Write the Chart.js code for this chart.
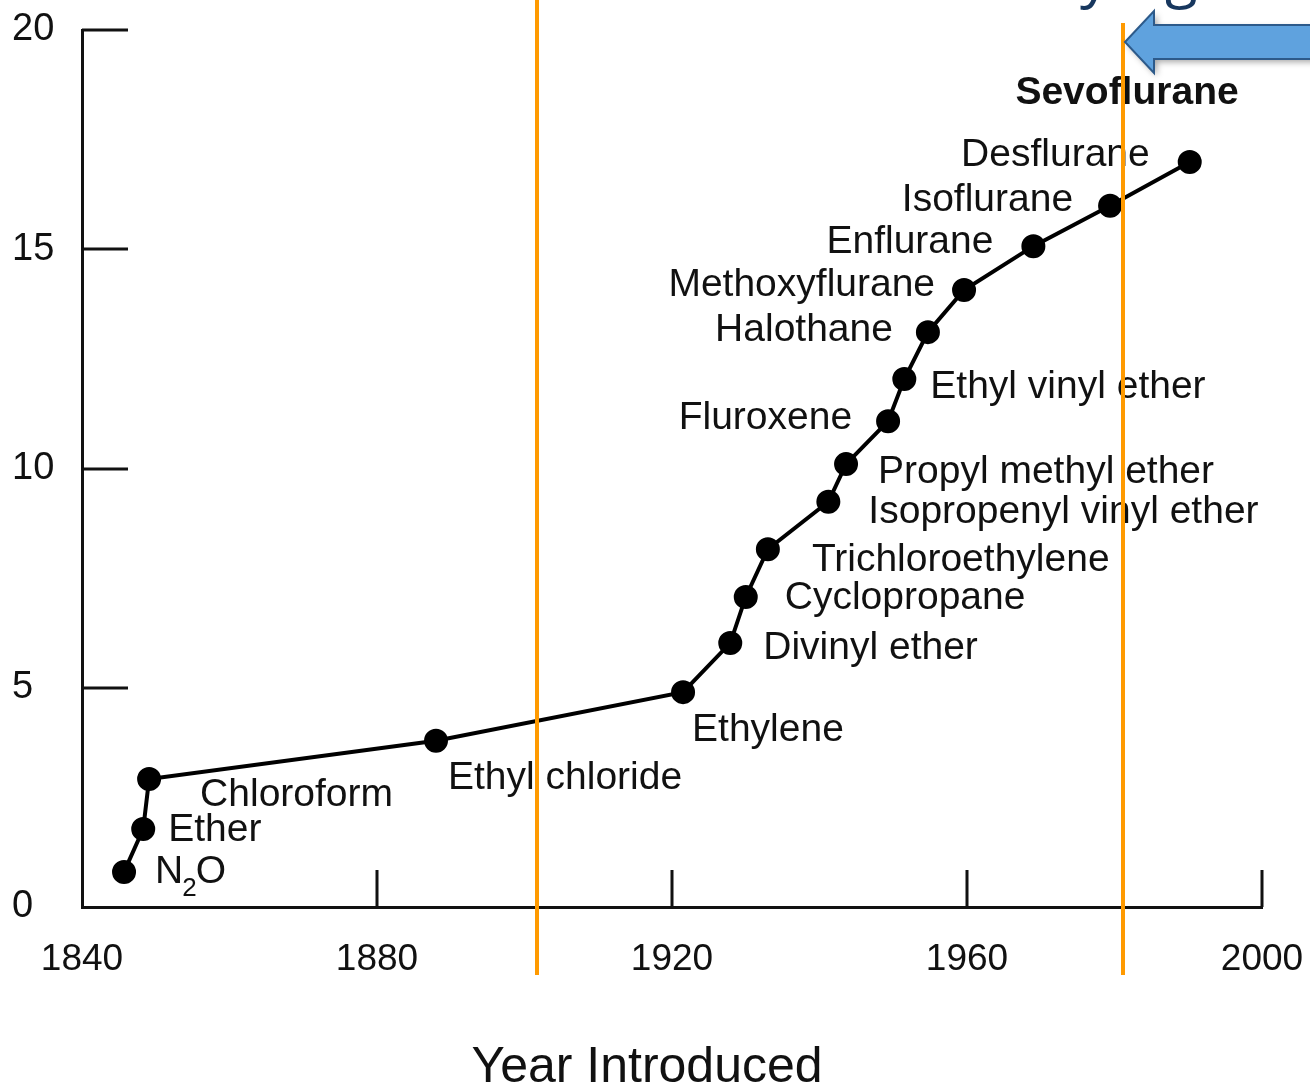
<!DOCTYPE html>
<html>
<head>
<meta charset="utf-8">
<script src="https://cdn.jsdelivr.net/npm/chart.js@4.4.1/dist/chart.umd.min.js"></script>
<style>
  body { margin: 0; background: #fff; }
  canvas { display: block; }
</style>
</head>
<body>
<canvas id="agentsChart" width="1310" height="1088"></canvas>
<script>
// anaesthetic agents, year introduced vs cumulative count
const agents = ['N2O', 'Ether', 'Chloroform', 'Ethyl chloride', 'Ethylene', 'Divinyl ether',
  'Cyclopropane', 'Trichloroethylene', 'Isopropenyl vinyl ether', 'Propyl methyl ether',
  'Fluroxene', 'Ethyl vinyl ether', 'Halothane', 'Methoxyflurane', 'Enflurane',
  'Isoflurane', 'Desflurane'];
const years = [1845.7, 1848.3, 1849.1, 1888.0, 1921.5, 1927.9, 1930.0, 1933.0, 1941.2,
  1943.6, 1949.3, 1951.5, 1954.7, 1959.6, 1969.0, 1979.4, 1990.2];
const counts = [0.80, 1.78, 2.92, 3.79, 4.90, 6.02, 7.07, 8.16, 9.24, 10.10, 11.08,
  12.04, 13.11, 14.07, 15.07, 15.99, 16.99];
const xTicks = [1840, 1880, 1920, 1960, 2000];
const yTicks = [0, 5, 10, 15, 20];
const markerYears = [1901.7, 1981.2];
const extraLabel = { text: 'Sevoflurane', year: 1981.7, count: 18.55 };

// where each name sits relative to its dot: [dx, dy, align]
const labelOffsets = [
  [31, 0, 'left'], [25, 1, 'left'], [51, 16, 'left'], [12, 37, 'left'], [9, 38, 'left'],
  [33, 5, 'left'], [39, 1, 'left'], [44, 11, 'left'], [40, 10, 'left'], [32, 8, 'left'],
  [-36, -3, 'right'], [26, 8, 'left'], [-35, -2, 'right'], [-29, -5, 'right'],
  [-40, -4, 'right'], [-37, -6, 'right'], [-40, -7, 'right']
];

const FONT = '"Liberation Sans", Arial, sans-serif';

const overlay = {
  id: 'overlay',
  afterDraw(chart) {
    const ctx = chart.ctx;
    const xs = chart.scales.x;
    const ys = chart.scales.y;
    const area = chart.chartArea;

    ctx.save();
    // inward tick marks
    ctx.strokeStyle = '#111';
    ctx.lineWidth = 3;
    ctx.beginPath();
    yTicks.filter(v => v > 0).forEach(v => {
      const py = Math.round(ys.getPixelForValue(v));
      ctx.moveTo(area.left, py);
      ctx.lineTo(area.left + 46, py);
    });
    xTicks.filter(v => v > 1840).forEach(v => {
      const px = Math.round(xs.getPixelForValue(v));
      ctx.moveTo(px, area.bottom);
      ctx.lineTo(px, area.bottom - 37);
    });
    ctx.stroke();

    // agent names
    ctx.fillStyle = '#111';
    ctx.textBaseline = 'middle';
    ctx.font = '39px ' + FONT;
    agents.forEach((name, i) => {
      const [dx, dy, align] = labelOffsets[i];
      const px = xs.getPixelForValue(years[i]) + dx;
      const py = ys.getPixelForValue(counts[i]) + dy;
      if (name === 'N2O') {
        ctx.textAlign = 'left';
        ctx.fillText('N', px, py);
        const wN = ctx.measureText('N').width;
        ctx.font = '26px ' + FONT;
        ctx.fillText('2', px + wN - 1, py + 17);
        const w2 = ctx.measureText('2').width;
        ctx.font = '39px ' + FONT;
        ctx.fillText('O', px + wN + w2 - 2, py);
      } else {
        ctx.textAlign = align;
        ctx.fillText(name, px, py);
      }
    });
    ctx.font = 'bold 39px ' + FONT;
    ctx.textAlign = 'center';
    ctx.fillText(extraLabel.text, xs.getPixelForValue(extraLabel.year), ys.getPixelForValue(extraLabel.count));

    // axis title
    ctx.font = '50px ' + FONT;
    ctx.fillText('Year Introduced', 647, 1068);

    // orange marker lines
    ctx.strokeStyle = '#ff9a00';
    ctx.lineWidth = 4;
    markerYears.forEach((yr, i) => {
      const px = Math.round(xs.getPixelForValue(yr));
      ctx.beginPath();
      ctx.moveTo(px, i === 0 ? 0 : 23);
      ctx.lineTo(px, 975);
      ctx.stroke();
    });

    // cut-off slide title at the top
    ctx.fillStyle = '#17375e';
    ctx.font = '60px "Open Sans", sans-serif';
    ctx.textAlign = 'left';
    ctx.textBaseline = 'alphabetic';
    ctx.fillText('y', 1080, -4);
    ctx.fillText('g', 1165, -4);

    // blue arrow
    ctx.shadowColor = 'rgba(0,0,0,0.35)';
    ctx.shadowBlur = 6;
    ctx.shadowOffsetX = 3;
    ctx.shadowOffsetY = 3;
    ctx.beginPath();
    ctx.moveTo(1125, 42);
    ctx.lineTo(1154, 11);
    ctx.lineTo(1154, 25);
    ctx.lineTo(1315, 25);
    ctx.lineTo(1315, 59);
    ctx.lineTo(1154, 59);
    ctx.lineTo(1154, 73);
    ctx.closePath();
    ctx.fillStyle = '#5fa2de';
    ctx.fill();
    ctx.shadowColor = 'transparent';
    ctx.strokeStyle = '#2d5a8a';
    ctx.lineWidth = 2;
    ctx.stroke();
    ctx.restore();
  }
};

new Chart(document.getElementById('agentsChart'), {
  type: 'line',
  data: {
    datasets: [{
      data: years.map((yr, i) => ({ x: yr, y: counts[i] })),
      borderColor: '#000',
      borderWidth: 4,
      pointRadius: 10,
      pointBackgroundColor: '#000',
      pointBorderColor: '#000',
      tension: 0,
      clip: false
    }]
  },
  options: {
    responsive: false,
    animation: false,
    layout: { padding: { left: 12, top: 30, right: 48, bottom: 0 } },
    plugins: { legend: { display: false }, tooltip: { enabled: false } },
    scales: {
      x: {
        type: 'linear',
        min: 1840,
        max: 2000,
        afterFit: scale => {
          scale.height = 181;
          scale.paddingLeft = 0;
          scale.paddingRight = 0;
        },
        afterBuildTicks: scale => { scale.ticks = xTicks.map(v => ({ value: v })); },
        grid: { display: false, drawTicks: false },
        border: { display: true, color: '#111', width: 3 },
        ticks: {
          padding: 31,
          color: '#111',
          font: { family: FONT, size: 37 },
          maxRotation: 0,
          callback: v => String(v)
        }
      },
      y: {
        min: 0,
        max: 20,
        afterFit: scale => {
          scale.width = 70;
          scale.paddingTop = 0;
          scale.paddingBottom = 0;
        },
        afterBuildTicks: scale => { scale.ticks = yTicks.map(v => ({ value: v })); },
        grid: { display: false, drawTicks: false },
        border: { display: true, color: '#111', width: 3 },
        ticks: {
          crossAlign: 'far',
          padding: 0,
          color: '#111',
          font: { family: FONT, size: 38 },
          callback: v => String(v)
        }
      }
    }
  },
  plugins: [overlay]
});
</script>
</body>
</html>
